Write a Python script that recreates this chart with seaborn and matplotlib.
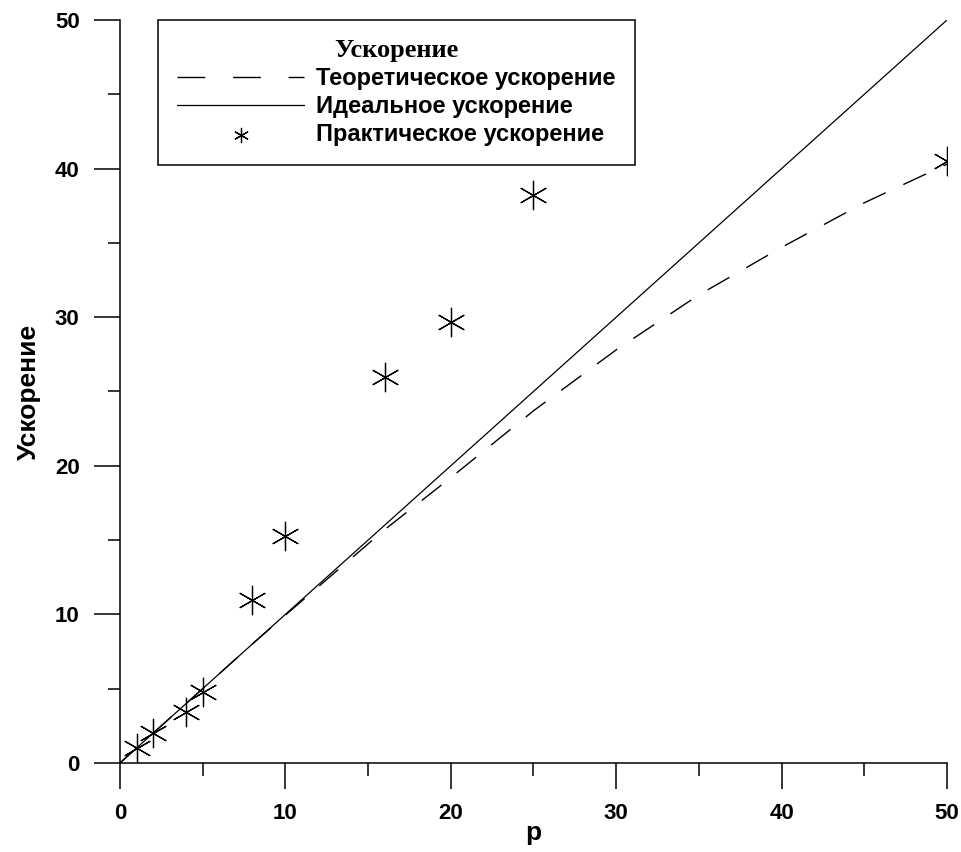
import numpy as np
import pandas as pd
import matplotlib
matplotlib.use("Agg")
import matplotlib.pyplot as plt
import seaborn as sns

# processors
p_theory = [0, 1, 2, 4, 5, 8, 10, 16, 20, 25, 30, 35, 40, 45, 50]
s_theory = [0, 1, 2, 4, 5, 8, 9.95, 15.7, 19.2, 23.7, 27.8, 31.5, 34.7, 37.7, 40.3]

p_ideal = [0, 50]
s_ideal = [0, 50]

p_practice = [1, 2, 4, 5, 8, 10, 16, 20, 25, 50]
s_practice = [1.0, 2.0, 3.4, 4.8, 11.0, 15.3, 26.0, 29.7, 38.2, 40.5]

sns.set_theme(style="ticks")
plt.rcParams['font.family'] = ['Liberation Sans', 'DejaVu Sans']
plt.rcParams['font.weight'] = 'bold'
plt.rcParams['text.color'] = 'black'
plt.rcParams['axes.labelcolor'] = 'black'
plt.rcParams['xtick.color'] = 'black'
plt.rcParams['ytick.color'] = 'black'

fig = plt.figure(figsize=(9.62, 8.52), dpi=100)
ax = fig.add_axes([0.1247, 0.1045, 0.8597, 0.872])

theory = pd.DataFrame({"p": p_theory, "s": s_theory})
ideal = pd.DataFrame({"p": p_ideal, "s": s_ideal})
practice = pd.DataFrame({"p": p_practice, "s": s_practice})

sns.lineplot(data=theory, x="p", y="s", ax=ax, color="black", linewidth=1.0,
             dashes=False, label="Теоретическое ускорение")
ax.lines[-1].set_dashes((18, 14))
sns.lineplot(data=ideal, x="p", y="s", ax=ax, color="black", linewidth=0.9,
             label="Идеальное ускорение")
sns.scatterplot(data=practice, x="p", y="s", ax=ax, marker=(6, 2, 0), s=420,
                color="black", linewidth=0.9, label="Практическое ускорение")

ax.set_xlim(0, 50)
ax.set_ylim(0, 50)
ax.set_xticks([0, 10, 20, 30, 40, 50])
ax.set_yticks([0, 10, 20, 30, 40, 50])
ax.set_xticks(np.arange(5, 50, 10), minor=True)
ax.set_yticks(np.arange(5, 50, 10), minor=True)
ax.tick_params(which="major", length=19, width=1.1, labelsize=16, pad=10)
ax.tick_params(which="minor", length=9, width=1.1)
for lab in ax.get_xticklabels() + ax.get_yticklabels():
    lab.set_fontweight("bold")

sns.despine(ax=ax)
for side in ["left", "bottom"]:
    ax.spines[side].set_linewidth(1.1)
    ax.spines[side].set_color("black")

ax.set_xlabel("p", fontsize=19, fontweight="bold", labelpad=-2)
ax.set_ylabel("Ускорение", fontsize=19, fontweight="bold", labelpad=10)

leg = ax.legend(loc="upper left", bbox_to_anchor=(0.046, 1.0),
                title="Ускорение", fontsize=17, handlelength=5.4,
                handletextpad=0.5, labelspacing=0.22, borderpad=0.8,
                markerscale=0.5, frameon=True, fancybox=False, shadow=False,
                borderaxespad=0)
leg.get_title().set_fontfamily("Liberation Serif")
leg.get_title().set_fontweight("bold")
leg.get_title().set_fontsize(19)
leg.get_frame().set_edgecolor("black")
leg.get_frame().set_linewidth(1.1)
leg.get_frame().set_alpha(1)
leg.get_lines()[0].set_dashes((20, 20))

fig.savefig("out.png", dpi=100)
